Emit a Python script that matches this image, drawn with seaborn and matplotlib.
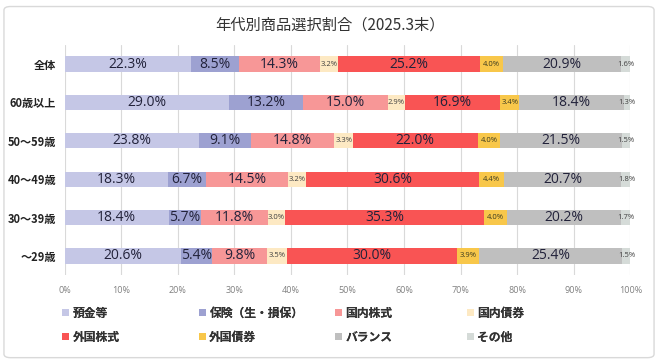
import matplotlib
matplotlib.use("Agg")
import matplotlib.pyplot as plt
import seaborn as sns
import pandas as pd
import numpy as np
from matplotlib.patches import FancyBboxPatch, Patch

categories = ["全体", "60歳以上", "50～59歳", "40～49歳", "30～39歳", "～29歳"]
series_names = ["預金等", "保険（生・損保）", "国内株式", "国内債券", "外国株式", "外国債券", "バランス", "その他"]
deposit = [22.3, 29.0, 23.8, 18.3, 18.4, 20.6]
insurance = [8.5, 13.2, 9.1, 6.7, 5.7, 5.4]
dom_stock = [14.3, 15.0, 14.8, 14.5, 11.8, 9.8]
dom_bond = [3.2, 2.9, 3.3, 3.2, 3.0, 3.5]
for_stock = [25.2, 16.9, 22.0, 30.6, 35.3, 30.0]
for_bond = [4.0, 3.4, 4.0, 4.4, 4.0, 3.9]
balance = [20.9, 18.4, 21.5, 20.7, 20.2, 25.4]
other = [1.6, 1.3, 1.5, 1.8, 1.7, 1.5]
ticks = [0, 10, 20, 30, 40, 50, 60, 70, 80, 90, 100]
tick_labels = ["0%", "10%", "20%", "30%", "40%", "50%", "60%", "70%", "80%", "90%", "100%"]
title = "年代別商品選択割合（2025.3末）"

colors = ["#c5c7e6", "#9da1d1", "#f79797", "#fde9c3", "#f95454", "#f8c74a", "#bfbfbf", "#d5dbd8"]

sns.set_theme(style="white")
plt.rcParams['font.family'] = ['Noto Sans CJK JP', 'DejaVu Sans']

values = [deposit, insurance, dom_stock, dom_bond, for_stock, for_bond, balance, other]
df = pd.DataFrame({n: v for n, v in zip(series_names, values)})
df["cat"] = categories
cum = df[series_names].cumsum(axis=1)

fig = plt.figure(figsize=(6.6, 3.62), dpi=100)
ax = fig.add_axes([0.098, 0.24, 0.857, 0.636])

for i in range(len(series_names) - 1, -1, -1):
    d = pd.DataFrame({"cat": categories, "val": cum[series_names[i]].values})
    sns.barplot(data=d, x="val", y="cat", orient="h", color=colors[i], width=0.4,
                ax=ax, saturation=1, zorder=2, linewidth=0, edgecolor="none")

# labels
for j, cat in enumerate(categories):
    left = 0.0
    for i, n in enumerate(series_names):
        v = df[n].iloc[j]
        cx = left + v / 2
        if v >= 5:
            ax.text(cx, j, f"{v:.1f}%", ha="center", va="center", fontsize=10,
                    color="#22223a", family=["Open Sans", "DejaVu Sans"], zorder=3)
        else:
            ax.text(cx, j, f"{v:.1f}%", ha="center", va="center", fontsize=5.5,
                    color="#404040" if i != 5 else "#3a3a20", family=["Open Sans", "DejaVu Sans"], zorder=3)
        left += v

ax.set_xlim(0, 100)
ax.set_ylim(5.5, -0.5)
ax.set_xticks(ticks)
ax.set_xticklabels(tick_labels, fontsize=6.5, color="#808080", family=["Open Sans", "DejaVu Sans"])
ax.set_xlabel("")
ax.set_ylabel("")
ax.set_yticks(range(len(categories)))
ax.set_yticklabels(categories, fontsize=8, fontweight="bold", color="#222222")
ax.tick_params(axis="both", length=0, pad=6)
ax.tick_params(axis="x", pad=8)
ax.xaxis.grid(True, color="#d9d9d9", linewidth=0.8, zorder=0)
ax.set_axisbelow(True)
for s in ax.spines.values():
    s.set_visible(False)

fig.text(0.5, 0.93, title, ha="center", va="center", fontsize=11, color="#333333")

col_x = [0.094, 0.301, 0.507, 0.707]
for c in range(4):
    idx = [c, c + 4]
    handles = [Patch(facecolor=colors[k], edgecolor="none") for k in idx]
    labels = [series_names[k] for k in idx]
    leg = fig.legend(handles, labels, ncol=1, loc="upper left",
                     bbox_to_anchor=(col_x[c], 0.153),
                     frameon=False, fontsize=8.5, handlelength=0.6, handleheight=0.6,
                     handletextpad=0.3, labelspacing=0.95, borderaxespad=0, borderpad=0)
    for t in leg.get_texts():
        t.set_fontweight("bold")
        t.set_color("#333333")
    fig.add_artist(leg)

border = FancyBboxPatch((0.006, 0.012), 0.985, 0.97, boxstyle="round,pad=0,rounding_size=0.01",
                        transform=fig.transFigure, facecolor="none", edgecolor="#d9d9d9", linewidth=1)
fig.patches.append(border)

fig.savefig("out.png", dpi=100)
